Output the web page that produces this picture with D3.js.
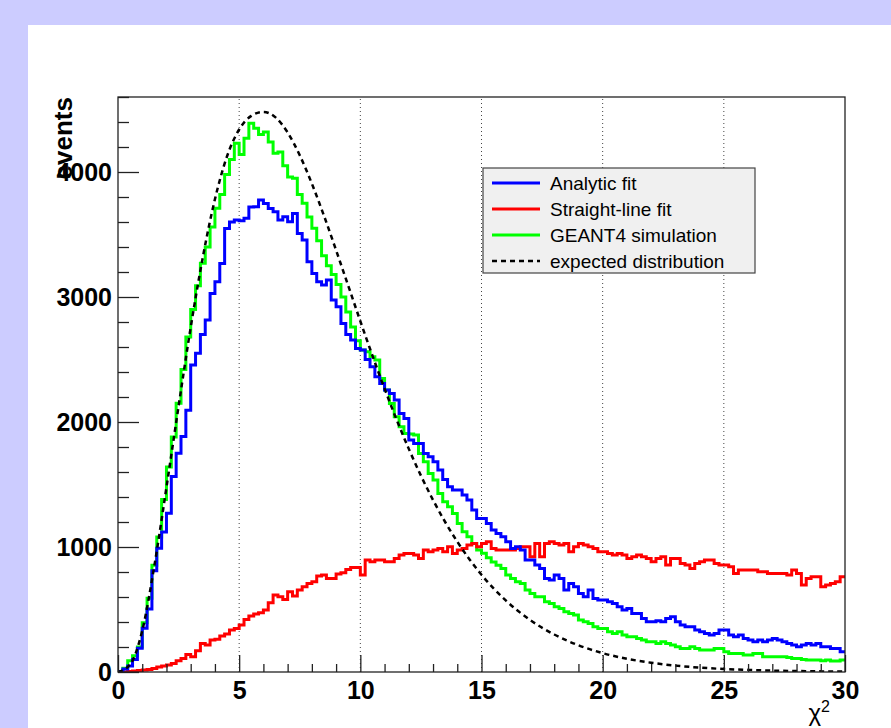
<html><head>
  <script src="https://d3js.org/d3.v7.min.js"></script>
  <style>body{margin:0;background:#ccccff;}</style>
</head>
<body>
<svg id="chart" width="891" height="728"></svg>
<script>
  // histogram contents, 150 bins of width 0.2 from 0 to 30
  const binWidth = 0.2;
  const binLow = d3.range(150).map(i => i * binWidth);

  const analytic = [
    5, 25, 48, 100, 190, 350, 505, 810, 990, 1120,
    1270, 1565, 1750, 1885, 2094, 2456, 2550, 2700, 2816, 3029,
    3123, 3269, 3549, 3600, 3616, 3610, 3630, 3720, 3723, 3776,
    3749, 3709, 3683, 3616, 3643, 3603, 3669, 3509, 3456, 3283,
    3189, 3123, 3096, 3136, 2976, 2923, 2789, 2700, 2656, 2589,
    2576, 2500, 2443, 2363, 2309, 2256, 2229, 2176, 2069, 2029,
    1856, 1829, 1829, 1749, 1723, 1683, 1616, 1540, 1483, 1456,
    1456, 1416, 1376, 1296, 1229, 1229, 1189, 1136, 1109, 1083,
    1043, 989, 1003, 976, 896, 896, 856, 829, 749, 736,
    776, 749, 656, 709, 683, 629, 603, 656, 589, 576,
    576, 563, 549, 523, 496, 509, 469, 469, 429, 403,
    403, 411, 403, 429, 443, 403, 376, 363, 363, 336,
    323, 309, 296, 309, 336, 336, 296, 283, 296, 269,
    256, 243, 256, 243, 256, 269, 256, 243, 229, 216,
    203, 216, 229, 216, 229, 203, 203, 189, 189, 163];

  const straight = [
    0, 0, 5, 8, 12, 16, 20, 29, 40, 48,
    56, 69, 91, 109, 141, 123, 171, 229, 216, 256,
    262, 288, 304, 336, 349, 376, 421, 448, 464, 475,
    496, 555, 616, 603, 581, 643, 608, 656, 683, 709,
    723, 768, 776, 749, 749, 784, 795, 821, 837, 837,
    776, 896, 883, 896, 896, 883, 883, 909, 936, 949,
    949, 936, 909, 976, 963, 976, 989, 963, 1003, 949,
    976, 989, 1016, 1029, 1003, 1029, 1043, 989, 976, 976,
    976, 976, 989, 1003, 1003, 923, 1029, 923, 1029, 1043,
    1029, 1016, 1029, 963, 1003, 1029, 1016, 1003, 989, 963,
    963, 949, 936, 949, 936, 909, 923, 936, 923, 909,
    883, 909, 923, 856, 909, 909, 869, 856, 829, 869,
    883, 896, 896, 869, 856, 856, 843, 789, 816, 816,
    816, 816, 803, 803, 789, 789, 789, 789, 776, 816,
    789, 696, 749, 763, 763, 683, 696, 709, 723, 763];

  const geant = [
    5, 30, 90, 130, 200, 395, 590, 855, 1080, 1380,
    1640, 1880, 2150, 2420, 2680, 2900, 3090, 3270, 3400, 3560,
    3710, 3820, 3980, 4100, 4230, 4140, 4270, 4390, 4350, 4300,
    4320, 4240, 4150, 4160, 4050, 3960, 3950, 3820, 3750, 3640,
    3550, 3450, 3330, 3250, 3180, 3100, 3000, 2880, 2760, 2650,
    2576, 2563, 2523, 2496, 2349, 2256, 2149, 2043, 1963, 1909,
    1904, 1896, 1749, 1683, 1589, 1536, 1429, 1363, 1323, 1269,
    1189, 1123, 1083, 1029, 976, 950, 915, 880, 855, 829,
    776, 749, 723, 709, 656, 629, 603, 603, 563, 549,
    523, 509, 483, 469, 456, 416, 403, 389, 363, 349,
    349, 323, 309, 323, 296, 283, 283, 269, 256, 243,
    243, 229, 243, 229, 216, 203, 189, 189, 203, 189,
    176, 176, 176, 189, 189, 163, 149, 149, 149, 136,
    136, 149, 149, 123, 123, 123, 123, 123, 117, 109,
    109, 101, 96, 96, 96, 91, 96, 88, 88, 96];

  // expected distribution, sampled along the dashed curve
  const expX = [0, 0.5, 1, 1.5, 2, 2.5, 3, 3.5, 4, 4.5, 5, 5.5, 6, 6.5, 7, 7.5, 8, 8.5, 9, 9.5,
                10, 10.5, 11, 11.5, 12, 12.5, 13, 13.5, 14, 14.5, 15, 16, 17, 18, 19, 20,
                21, 22, 23, 24, 25, 26, 27, 28, 29, 30];
  const expY = [0, 60, 330, 850, 1477, 2126, 2757, 3318, 3782, 4126, 4340, 4449, 4481, 4437, 4316, 4134, 3907, 3650, 3374, 3091,
                2807, 2531, 2267, 2017, 1785, 1571, 1376, 1200, 1043, 902, 778, 573, 417, 300, 214, 151,
                106, 74, 51, 35, 24, 17, 11, 8, 5, 3];

  const xMajor = [0, 5, 10, 15, 20, 25, 30];
  const xMinor = d3.range(0, 31, 1).filter(v => v % 5 != 0);
  const yMajor = [0, 1000, 2000, 3000, 4000];
  const yMinor = d3.range(0, 4601, 200).filter(v => v % 1000 != 0);

  const legendItems = [
    {"label": "Analytic fit", "color": "#0000ff", "dash": null},
    {"label": "Straight-line fit", "color": "#ff0000", "dash": null},
    {"label": "GEANT4 simulation", "color": "#00ff00", "dash": null},
    {"label": "expected distribution", "color": "#000000", "dash": "5,4"}];

  const font = "'Liberation Sans', Arial, Helvetica, sans-serif";

  let svg = d3.select("svg#chart");

  svg.append("rect")
     .attr("x", 28).attr("y", 25)
     .attr("width", 891 - 28).attr("height", 728 - 25)
     .attr("fill", "white");

  let x = d3.scaleLinear().domain([0, 30]).range([118, 845]);
  let y = d3.scaleLinear().domain([0, 4600]).range([672, 97]);

  svg.append("clipPath").attr("id", "frame")
     .append("rect")
     .attr("x", x(0)).attr("y", y(4600))
     .attr("width", x(30) - x(0)).attr("height", y(0) - y(4600));

  // dotted vertical grid
  xMajor.slice(1, -1).forEach(v => {
    svg.append("line")
       .attr("x1", x(v)).attr("x2", x(v))
       .attr("y1", y(0)).attr("y2", y(4600))
       .style("stroke", "#444")
       .style("stroke-width", 1)
       .style("stroke-dasharray", "1,3");
  });

  let plot = svg.append("g").attr("clip-path", "url(#frame)");

  let step = d3.line()
               .x(d => x(d[0]))
               .y(d => y(d[1]))
               .curve(d3.curveStepAfter);

  function histPoints(vals) {
    let pts = binLow.map((b, i) => [b, vals[i]]);
    pts.push([30, vals[vals.length - 1]]);
    return pts;
  }

  [[geant, "#00ff00"], [straight, "#ff0000"], [analytic, "#0000ff"]].forEach(h => {
    plot.append("path")
        .attr("d", step(histPoints(h[0])))
        .style("fill", "none")
        .style("stroke", h[1])
        .style("stroke-width", 3);
  });

  let curve = d3.line()
                .x((d, i) => x(expX[i]))
                .y(d => y(d))
                .curve(d3.curveMonotoneX);

  plot.append("path")
      .attr("d", curve(expY))
      .style("fill", "none")
      .style("stroke", "black")
      .style("stroke-width", 2.5)
      .style("stroke-dasharray", "5,4");

  // axes with ticks pointing inward
  function styleAxis(g) {
    g.select(".domain").remove();
    g.selectAll(".tick line").style("stroke", "#222").style("stroke-width", 1.3);
    g.selectAll("text")
     .style("font-family", font)
     .style("font-weight", "bold")
     .style("font-size", "25px")
     .style("fill", "black");
  }

  svg.append("g")
     .attr("transform", "translate(0," + y(0) + ")")
     .call(d3.axisBottom(x).tickValues(xMinor).tickSize(-8).tickFormat(""))
     .call(styleAxis);

  svg.append("g")
     .attr("transform", "translate(0," + y(0) + ")")
     .call(d3.axisBottom(x).tickValues(xMajor).tickSize(-17).tickPadding(9).tickFormat(d3.format("d")))
     .call(styleAxis);

  svg.append("g")
     .attr("transform", "translate(" + x(0) + ",0)")
     .call(d3.axisLeft(y).tickValues(yMinor).tickSize(-11).tickFormat(""))
     .call(styleAxis);

  svg.append("g")
     .attr("transform", "translate(" + x(0) + ",0)")
     .call(d3.axisLeft(y).tickValues(yMajor).tickSize(-21).tickPadding(6).tickFormat(d3.format("d")))
     .call(styleAxis);

  svg.append("rect")
     .attr("x", x(0)).attr("y", y(4600))
     .attr("width", x(30) - x(0)).attr("height", y(0) - y(4600))
     .style("fill", "none")
     .style("stroke", "#222")
     .style("stroke-width", 1.3);

  // axis titles
  svg.append("text")
     .attr("transform", "translate(72," + y(4600) + ") rotate(-90)")
     .style("text-anchor", "end")
     .style("font-family", font)
     .style("font-weight", "bold")
     .style("font-size", "26px")
     .text("events");

  let xt = svg.append("text")
              .attr("x", 830).attr("y", 721)
              .style("text-anchor", "end")
              .style("font-family", font)
              .style("font-size", "24px")
              .text("χ");
  xt.append("tspan")
    .attr("dy", -9)
    .style("font-size", "16px")
    .text("2");

  // legend
  let legend = svg.append("g");
  legend.append("rect")
        .attr("x", 483).attr("y", 168)
        .attr("width", 272).attr("height", 105)
        .style("fill", "#f0f0f0")
        .style("stroke", "#444")
        .style("stroke-width", 1.2);

  legendItems.forEach((d, i) => {
    let ly = 183 + i * 26;
    legend.append("line")
          .attr("x1", 492).attr("x2", 540)
          .attr("y1", ly).attr("y2", ly)
          .style("stroke", d.color)
          .style("stroke-width", d.dash ? 2.5 : 3)
          .style("stroke-dasharray", d.dash);
    legend.append("text")
          .attr("x", 550).attr("y", ly)
          .style("dominant-baseline", "central")
          .style("font-family", font)
          .style("font-size", "19px")
          .text(d.label);
  });
</script>
</body>
</html>
